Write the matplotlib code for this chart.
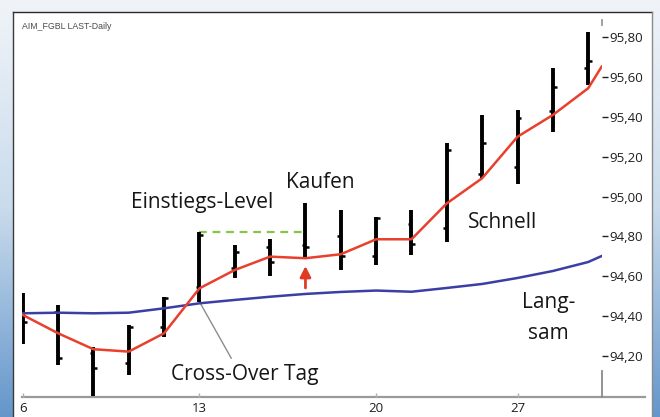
import matplotlib
matplotlib.use("Agg")
import matplotlib.pyplot as plt
import numpy as np
from matplotlib.patches import Rectangle
from matplotlib.colors import LinearSegmentedColormap

# ---------------- data ----------------
days = list(range(17))
highs  = [94.515, 94.457, 94.248, 94.356, 94.495, 94.820, 94.757, 94.787, 94.968,
          94.933, 94.899, 94.933, 95.267, 95.409, 95.434, 95.646, 95.827]
lows   = [94.261, 94.156, 94.000, 94.106, 94.298, 94.473, 94.592, 94.602, 94.699,
          94.632, 94.657, 94.707, 94.774, 95.092, 95.062, 95.325, 95.559]
opens  = [94.412, 94.422, 94.216, 94.166, 94.348, 94.548, 94.642, 94.747, 94.757,
          94.804, 94.704, 94.861, 94.844, 95.112, 95.150, 95.429, 95.646]
closes = [94.371, 94.191, 94.141, 94.346, 94.492, 94.808, 94.722, 94.672, 94.747,
          94.704, 94.893, 94.761, 95.234, 95.267, 95.392, 95.551, 95.680]

ma_x    = days + [16.38]
fast_ma = [94.407, 94.315, 94.235, 94.223, 94.315, 94.540, 94.632, 94.699, 94.691,
           94.711, 94.786, 94.786, 94.966, 95.092, 95.300, 95.409, 95.543, 95.651]
slow_ma = [94.415, 94.418, 94.415, 94.418, 94.440, 94.465, 94.482, 94.498, 94.512,
           94.522, 94.529, 94.523, 94.542, 94.562, 94.592, 94.627, 94.672, 94.702]

entry_level = 94.82
entry_days = [5, 8]

y_ticks = [94.2, 94.4, 94.6, 94.8, 95.0, 95.2, 95.4, 95.6, 95.8]
y_tick_labels = ["94,20", "94,40", "94,60", "94,80", "95,00", "95,20", "95,40", "95,60", "95,80"]
x_tick_pos = [0, 5, 10, 14]
x_tick_labels = ["6", "13", "20", "27"]

# ---------------- figure ----------------
W, H = 660, 417
fig = plt.figure(figsize=(W / 100, H / 100), dpi=100)

def fx(px):
    return px / W

def fy(py):
    return 1 - py / H

# background gradient (blue frame)
bg = fig.add_axes([0, 0, 1, 1])
bg.set_axis_off()
cmap = LinearSegmentedColormap.from_list("frame", ["#f0f4f9", "#c9dbec", "#6496cb"])
grad = np.linspace(0, 1, 256).reshape(-1, 1)
bg.imshow(grad, aspect="auto", cmap=cmap, extent=[0, 1, 0, 1], origin="upper")
bg.set_xlim(0, 1)
bg.set_ylim(0, 1)
bg.add_patch(Rectangle((fx(13), 0), fx(652) - fx(13), fy(12), facecolor="white",
                       edgecolor="none"))
bg.plot([fx(13), fx(652)], [fy(12), fy(12)], color="#2a2a2a", lw=1.0)
bg.plot([fx(13), fx(13)], [0, fy(12)], color="#3a3a3a", lw=1.0)
bg.plot([fx(652), fx(652)], [0, fy(12)], color="#8a8a8a", lw=1.0)

# main axes
ax = fig.add_axes([fx(22), fy(396.5), (602 - 22) / W, (396.5 - 12) / H])
ax.set_facecolor("none")
ax.set_xlim(-0.02, 16.39)
ax.set_ylim(93.998, 95.925)

for s in ["top", "left", "right", "bottom"]:
    ax.spines[s].set_visible(False)

# extended bottom axis line
ax.plot([0, (645 - 22) / 580], [0, 0], transform=ax.transAxes, color="#9a9a9a",
        lw=1.6, clip_on=False, zorder=1)

# OHLC bars
ax.vlines(days, lows, highs, color="black", lw=2.8, zorder=3)
tick_w = 0.11
for d, o, c in zip(days, opens, closes):
    ax.plot([d - tick_w, d], [o, o], color="black", lw=1.8, zorder=3,
            solid_capstyle="butt")
    ax.plot([d, d + tick_w], [c, c], color="black", lw=1.8, zorder=3,
            solid_capstyle="butt")

# moving averages
ax.plot(ma_x, slow_ma, color="#3b3fa5", lw=1.8, zorder=4)
ax.plot(ma_x, fast_ma, color="#e8402c", lw=1.8, zorder=4)

# entry level dashed line
ax.plot(entry_days, [entry_level, entry_level], color="#86c44a", lw=1.6,
        dashes=(3.5, 2.6), zorder=2)

# buy arrow
ax.annotate("", xy=(8, 94.652), xytext=(8, 94.542),
            arrowprops=dict(arrowstyle="-|>", color="#e03a25", lw=2.0,
                            mutation_scale=16, shrinkA=0, shrinkB=0), zorder=5)

# cross-over leader line
ax.plot([5.02, 5.9], [94.467, 94.19], color="#8c8c8c", lw=1.0, zorder=2)

# cursor marks at the right edge
ax.plot([16.38, 16.38], [93.998, 94.126], color="#8a8a8a", lw=1.3, zorder=2,
        clip_on=False)
ax.plot([16.38, 16.38], [95.86, 95.885], color="#9a9a9a", lw=1.3, zorder=2,
        clip_on=False)

# annotation texts
tf = dict(family=["Open Sans", "DejaVu Sans"], color="#161616", fontsize=15)
ax.text(5.09, 94.945, "Einstiegs-Level", ha="center", va="baseline", **tf)
ax.text(8.42, 95.042, "Kaufen", ha="center", va="baseline", **tf)
ax.text(13.57, 94.841, "Schnell", ha="center", va="baseline", **tf)
ax.text(14.88, 94.442, "Lang-", ha="center", va="baseline", **tf)
ax.text(14.88, 94.285, "sam", ha="center", va="baseline", **tf)
ax.text(6.29, 94.083, "Cross-Over Tag", ha="center", va="baseline", **tf)

# axis ticks
ax.yaxis.tick_right()
ax.set_yticks(y_ticks)
ax.set_yticklabels(y_tick_labels)
ax.tick_params(axis="y", direction="out", length=4, width=1.0, color="#222222",
               pad=1, labelsize=9.5, labelcolor="#1e1e1e")
ax.set_xticks(x_tick_pos)
ax.set_xticklabels(x_tick_labels)
ax.tick_params(axis="x", direction="in", length=3, width=1.0, color="#b0b0b0",
               pad=4, labelsize=9.5, labelcolor="#1e1e1e")
for lab in ax.get_yticklabels() + ax.get_xticklabels():
    lab.set_family(["Open Sans", "DejaVu Sans"])

# header label
fig.text(fx(22), fy(29), "AIM_FGBL LAST-Daily", fontsize=6.3, color="#4a4a4a",
         family=["Liberation Sans", "DejaVu Sans"], ha="left", va="baseline")

fig.savefig("out.png", dpi=100)
